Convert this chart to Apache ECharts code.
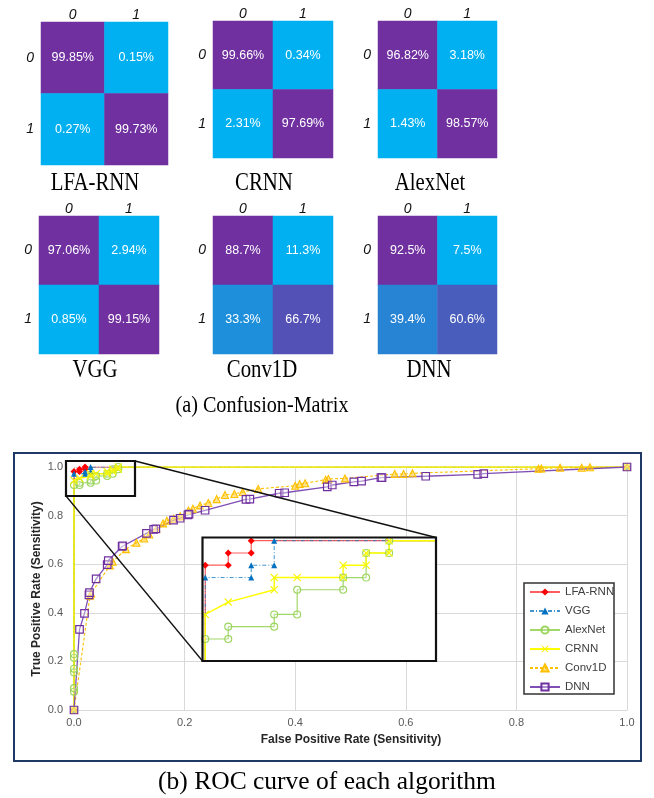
<!DOCTYPE html>
<html><head><meta charset="utf-8">
<script src="https://cdn.jsdelivr.net/npm/echarts@6/dist/echarts.min.js"></script>
<style>html,body{margin:0;padding:0;background:#fff}#c{width:654px;height:798px}</style>
</head><body><div id="c"></div>
<script>
// ---------- Confusion matrices (row-major: [r0c0, r0c1, r1c0, r1c1], in %) ----------
const cmModels = ['LFA-RNN', 'CRNN', 'AlexNet', 'VGG', 'Conv1D', 'DNN'];
const cmClassLabels = ['0', '1'];
const cmLFARNN = [99.85, 0.15, 0.27, 99.73];
const cmCRNN = [99.66, 0.34, 2.31, 97.69];
const cmAlexNet = [96.82, 3.18, 1.43, 98.57];
const cmVGG = [97.06, 2.94, 0.85, 99.15];
const cmConv1D = [88.7, 11.3, 33.3, 66.7];
const cmDNN = [92.5, 7.5, 39.4, 60.6];

// ---------- ROC curves: [false positive rate, true positive rate] ----------
const rocSeriesNames = ['LFA-RNN', 'VGG', 'AlexNet', 'CRNN', 'Conv1D', 'DNN'];
const rocLFARNN = [[0,0],[0,0.9815],[0.01,0.9815],[0.01,0.9907],[0.02,0.9907],[0.02,1],[1,1]];
const rocVGG = [[0,0],[0,0.9722],[0.02,0.9722],[0.02,0.9815],[0.03,0.9815],[0.03,1],[1,1]];
const rocAlexNet = [[0,0],[0,0.075],[0,0.09],[0,0.155],[0,0.17],[0,0.215],[0,0.23],[0,0.9259],[0.01,0.9259],[0.01,0.9352],[0.03,0.9352],[0.03,0.9444],[0.04,0.9444],[0.04,0.963],[0.06,0.963],[0.06,0.9722],[0.07,0.9722],[0.07,0.9907],[0.08,0.9907],[0.08,1],[1,1]];
const rocCRNN = [[0,0],[0,0.9444],[0.01,0.9537],[0.03,0.963],[0.03,0.9722],[0.04,0.9722],[0.06,0.9722],[0.06,0.9815],[0.07,0.9815],[0.07,0.9907],[0.08,0.9907],[0.08,1],[1,1]];
const rocConv1D = [[0,0],[0.029,0.47],[0.031,0.48],[0.065,0.595],[0.07,0.61],[0.094,0.662],[0.113,0.688],[0.127,0.706],[0.136,0.722],[0.149,0.746],[0.161,0.768],[0.168,0.779],[0.18,0.787],[0.192,0.797],[0.207,0.821],[0.215,0.828],[0.228,0.842],[0.243,0.852],[0.258,0.868],[0.273,0.885],[0.29,0.889],[0.305,0.897],[0.333,0.91],[0.4,0.923],[0.408,0.93],[0.418,0.933],[0.455,0.948],[0.46,0.951],[0.49,0.953],[0.58,0.971],[0.596,0.971],[0.612,0.974],[0.84,0.993],[0.845,0.994],[0.879,0.997],[0.918,0.997],[0.933,0.999],[1,1]];
const rocDNN = [[0,0],[0.01,0.332],[0.019,0.398],[0.027,0.474],[0.028,0.483],[0.04,0.54],[0.06,0.598],[0.062,0.615],[0.087,0.673],[0.088,0.676],[0.131,0.727],[0.144,0.743],[0.148,0.745],[0.18,0.781],[0.192,0.789],[0.206,0.803],[0.208,0.806],[0.237,0.822],[0.311,0.867],[0.318,0.868],[0.371,0.892],[0.381,0.894],[0.458,0.918],[0.467,0.926],[0.506,0.939],[0.52,0.942],[0.555,0.956],[0.557,0.956],[0.636,0.962],[0.73,0.97],[0.741,0.973],[1,1]];
const rocAxisTicks = [0, 0.2, 0.4, 0.6, 0.8, 1.0];

const cmData = [cmLFARNN, cmCRNN, cmAlexNet, cmVGG, cmConv1D, cmDNN];
const rocData = [rocLFARNN, rocVGG, rocAlexNet, rocCRNN, rocConv1D, rocDNN];

// ---------- layout / style ----------
const cmRects = [
  [41, 22, 127, 143], [213, 21, 120, 137], [378, 21, 119, 137],
  [39, 216, 120, 138], [213, 216, 120, 138], [378, 216, 119, 138]
];
const cmTitlePos = [[95, 183], [264, 183], [430, 183], [95, 370], [262, 370], [429, 370]];
const X_SYMBOL = 'path://M0,1L1,0L5,4L9,0L10,1L6,5L10,9L9,10L5,6L1,10L0,9L4,5Z';
const rocStyles = [
  {line: {color: 'rgba(255,40,40,0.75)', width: 1.2, type: 'solid'}, symbol: 'diamond', size: 7, item: {color: '#FF0000'}},
  {line: {color: 'rgba(0,112,192,0.75)', width: 1, type: [4, 2, 1, 2]}, symbol: 'triangle', size: 6, item: {color: '#0070C0'}},
  {line: {color: 'rgba(146,208,80,0.85)', width: 1.2, type: 'solid'}, symbol: 'circle', size: 7, item: {color: 'rgba(255,255,255,0.2)', borderColor: 'rgba(146,208,80,0.9)', borderWidth: 1.1}},
  {line: {color: '#FFFF00', width: 1.4, type: 'solid'}, symbol: X_SYMBOL, size: 8, item: {color: '#F5F500'}},
  {line: {color: '#FFC000', width: 1.1, type: [3, 2]}, symbol: 'triangle', size: 7, item: {color: 'rgba(255,192,0,0.45)', borderColor: '#FFC000', borderWidth: 1.1}},
  {line: {color: '#7F4FB5', width: 1.3, type: 'solid'}, symbol: 'rect', size: 7.5, item: {color: 'rgba(255,255,255,0.35)', borderColor: '#7030A0', borderWidth: 1.2}}
];

const grids = [], xAxes = [], yAxes = [], series = [], graphics = [];

cmRects.forEach((r, i) => {
  grids.push({left: r[0], top: r[1], width: r[2], height: r[3], outerBoundsMode: 'none'});
  xAxes.push({type: 'category', gridIndex: i, data: cmClassLabels, position: 'top',
    axisLine: {show: false}, axisTick: {show: false}, splitLine: {show: false},
    axisLabel: {margin: 0, fontSize: 14, fontStyle: 'italic', color: '#111', fontFamily: 'Liberation Sans'}});
  yAxes.push({type: 'category', gridIndex: i, data: cmClassLabels, inverse: true,
    axisLine: {show: false}, axisTick: {show: false}, splitLine: {show: false},
    axisLabel: {margin: 7, fontSize: 14, fontStyle: 'italic', color: '#111', fontFamily: 'Liberation Sans'}});
  const v = cmData[i];
  series.push({type: 'heatmap', xAxisIndex: i, yAxisIndex: i,
    data: [[0, 0, v[0]], [1, 0, v[1]], [0, 1, v[2]], [1, 1, v[3]]],
    label: {show: true, color: '#fff', fontSize: 12.5, fontFamily: 'Liberation Sans',
      textBorderWidth: 0, formatter: p => p.value[2] + '%'},
    emphasis: {disabled: true}, animation: false});
  graphics.push({type: 'text', x: cmTitlePos[i][0], y: cmTitlePos[i][1], scaleX: 0.8,
    style: {text: cmModels[i], font: '26px "Liberation Serif"', fill: '#000', align: 'center', verticalAlign: 'middle'}});
});

// main ROC grid (index 6) and inset grid (index 7)
const G_MAIN = 6, G_INSET = 7;
grids.push({left: 74, top: 467, width: 553, height: 243, outerBoundsMode: 'none'});
grids.push({left: 202.5, top: 537.5, width: 233.5, height: 123.5, outerBoundsMode: 'none'});
const tickFmt = v => rocAxisTicks.indexOf(v) >= 0 ? v.toFixed(1) : '';
xAxes.push({type: 'value', gridIndex: G_MAIN, min: 0, max: 1, interval: 0.2,
  axisLine: {show: true, lineStyle: {color: '#D9D9D9', width: 1}}, axisTick: {show: false},
  splitLine: {show: true, lineStyle: {color: '#D9D9D9', width: 1}},
  axisLabel: {margin: 7, fontSize: 11, color: '#595959', fontFamily: 'Liberation Sans', formatter: tickFmt}});
yAxes.push({type: 'value', gridIndex: G_MAIN, min: 0, max: 1, interval: 0.2,
  axisLine: {show: false}, axisTick: {show: false},
  splitLine: {show: true, lineStyle: {color: '#D9D9D9', width: 1}},
  axisLabel: {margin: 11, fontSize: 11, color: '#595959', fontFamily: 'Liberation Sans', formatter: tickFmt}});
xAxes.push({type: 'value', gridIndex: G_INSET, min: -0.0012, max: 0.1004, show: false, splitLine: {show: false}});
yAxes.push({type: 'value', gridIndex: G_INSET, min: 0.9093, max: 1.0024, show: false, splitLine: {show: false}});

function rocLine(idx, axisIdx, z) {
  const s = rocStyles[idx];
  return {type: 'line', name: rocSeriesNames[idx], data: rocData[idx],
    xAxisIndex: axisIdx, yAxisIndex: axisIdx, z: z, clip: true,
    symbol: s.symbol, symbolSize: s.size, showSymbol: true, showAllSymbol: true,
    lineStyle: s.line, itemStyle: s.item, emphasis: {disabled: true}, animation: false};
}
rocSeriesNames.forEach((n, i) => series.push(rocLine(i, G_MAIN, 2)));
[0, 1, 2, 3].forEach(i => series.push(rocLine(i, G_INSET, 6)));

// frame, inset box, zoom box, connectors, legend box
graphics.push({type: 'rect', z: 1, shape: {x: 14, y: 453, width: 627, height: 308},
  style: {fill: 'none', stroke: '#1F3864', lineWidth: 2}});
graphics.push({type: 'rect', z: 5, shape: {x: 202.5, y: 537.5, width: 233.5, height: 123.5},
  style: {fill: '#fff', stroke: 'none'}});
graphics.push({type: 'rect', z: 9, shape: {x: 202.5, y: 537.5, width: 233.5, height: 123.5},
  style: {fill: 'none', stroke: '#111', lineWidth: 2.2}});
graphics.push({type: 'rect', z: 9, shape: {x: 66, y: 461, width: 69, height: 35},
  style: {fill: 'none', stroke: '#111', lineWidth: 2.2}});
graphics.push({type: 'line', z: 9, shape: {x1: 135, y1: 461, x2: 436, y2: 537.5},
  style: {stroke: '#111', lineWidth: 1.3}});
graphics.push({type: 'line', z: 9, shape: {x1: 66, y1: 496, x2: 202.5, y2: 661},
  style: {stroke: '#111', lineWidth: 1.3}});
graphics.push({type: 'rect', z: 5, shape: {x: 524, y: 583, width: 90, height: 111},
  style: {fill: '#fff', stroke: '#333', lineWidth: 1.5}});
// axis titles and captions
graphics.push({type: 'text', z: 9, x: 351, y: 740,
  style: {text: 'False Positive Rate (Sensitivity)', font: 'bold 12px "Liberation Sans"', fill: '#262626', align: 'center', verticalAlign: 'middle'}});
graphics.push({type: 'text', z: 9, x: 37, y: 589, rotation: Math.PI / 2,
  style: {text: 'True Positive Rate (Sensitivity)', font: 'bold 12px "Liberation Sans"', fill: '#262626', align: 'center', verticalAlign: 'middle'}});
graphics.push({type: 'text', x: 262, y: 406, scaleX: 0.84,
  style: {text: '(a) Confusion-Matrix', font: '24px "Liberation Serif"', fill: '#000', align: 'center', verticalAlign: 'middle'}});
graphics.push({type: 'text', x: 327, y: 782,
  style: {text: '(b) ROC curve of each algorithm', font: '25.5px "Liberation Serif"', fill: '#000', align: 'center', verticalAlign: 'middle'}});

const chart = echarts.init(document.getElementById('c'), null, {renderer: 'canvas'});
chart.setOption({
  animation: false,
  backgroundColor: '#fff',
  grid: grids, xAxis: xAxes, yAxis: yAxes,
  visualMap: {type: 'continuous', show: false, min: 15, max: 85, dimension: 2,
    seriesIndex: [0, 1, 2, 3, 4, 5], inRange: {color: ['#00B0F0', '#7030A0']}},
  legend: {orient: 'vertical', left: 529, top: 586, padding: 0, itemGap: 7, z: 7,
    itemWidth: 30, itemHeight: 9, data: rocSeriesNames,
    textStyle: {fontSize: 11.5, lineHeight: 12, color: '#404040', fontFamily: 'Liberation Sans'}},
  graphic: graphics,
  series: series
});
</script></body></html>
